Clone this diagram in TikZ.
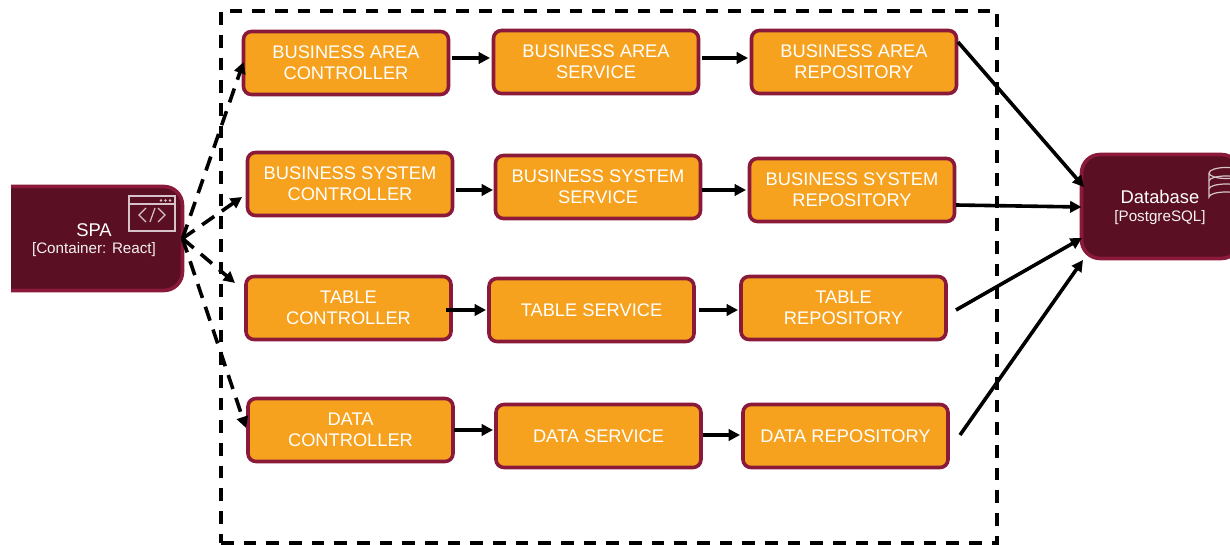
\documentclass[tikz,border=0pt]{standalone}
\usepackage{fontspec}
\setmainfont{Liberation Sans}
\usetikzlibrary{arrows.meta}
\definecolor{orangefill}{HTML}{F6A21E}
\definecolor{wineedge}{HTML}{8B1A3A}
\definecolor{winefill}{HTML}{5A0F22}
\definecolor{iconline}{HTML}{D6C3C9}
\tikzset{
  bx/.style={draw=wineedge,fill=orangefill,line width=2.7pt,rounded corners=6pt,minimum width=153.75pt,minimum height=47.25pt,inner sep=0pt,outer sep=0pt,align=center,text=white,font=\fontsize{13.7}{15.8}\selectfont},
  dark/.style={draw=wineedge,fill=winefill,line width=2.7pt,rounded corners=14pt,minimum height=78pt,inner sep=0pt,outer sep=0pt},
  titletext/.style={text=white,inner sep=0pt,font=\fontsize{13.8}{16}\selectfont},
  subtext/.style={text=white!94!winefill,inner sep=0pt,font=\fontsize{11.4}{13}\selectfont},
  arr/.style={draw=black,line width=2.7pt,-{Triangle[length=8.5pt,width=8.5pt]}},
  darr/.style={arr,dash pattern=on 11pt off 7pt},
  frame/.style={draw=black,line width=2.7pt,dash pattern=on 9.5pt off 7.5pt,minimum width=582pt,minimum height=399pt,inner sep=0pt,outer sep=0pt},
  icon/.style={draw=iconline,line width=0.9pt},
}
\begin{document}
\begin{tikzpicture}[x=0.75pt,y=-0.75pt]
\clip (0,0) rectangle (1230,545);
\fill[white] (0,0) rectangle (1230,545);
\node[frame] (fr) at (609,277) {};
% boxes
\node[bx] (a1) at (346,63) {BUSINESS AREA\\CONTROLLER};
\node[bx] (a2) at (596,62) {BUSINESS AREA\\SERVICE};
\node[bx] (a3) at (854,62) {BUSINESS AREA\\REPOSITORY};
\node[bx] (b1) at (350,184) {BUSINESS SYSTEM\\CONTROLLER};
\node[bx] (b2) at (598,187) {BUSINESS SYSTEM\\SERVICE};
\node[bx] (b3) at (852,190) {BUSINESS SYSTEM\\REPOSITORY};
\node[bx] (c1) at (348.5,308) {TABLE\\CONTROLLER};
\node[bx] (c2) at (591.5,310) {TABLE SERVICE};
\node[bx] (c3) at (843.5,308) {TABLE\\REPOSITORY};
\node[bx] (d1) at (350.5,430) {DATA\\CONTROLLER};
\node[bx] (d2) at (598.5,436) {DATA SERVICE};
\node[bx] (d3) at (845.5,436) {DATA REPOSITORY};
% SPA, cut off at left
\begin{scope}
\clip (11,150) rectangle (300,330);
\node[dark,minimum width=152.25pt] (spa) at (81,238.5) {};
\end{scope}
\node[titletext] (spat) at (94,230) {SPA};
\node[subtext] (spas) at (94,250) {[Container: React]};
\draw[icon] (129,196) rectangle (175,231);
\draw[icon] (129,204) -- (175,204);
\fill[iconline] (161,200.5) circle (1pt) (165.5,200.5) circle (1pt) (170,200.5) circle (1pt);
\draw[icon] (146,208) -- (139,215) -- (146,222);
\draw[icon] (155,208) -- (150,222);
\draw[icon] (158,208) -- (165,215) -- (158,222);
% Database, cut off at right
\node[dark,minimum width=118.9pt] (db) at (1160.75,206.5) {};
\node[titletext] (dbt) at (1160,197) {Database};
\node[subtext] (dbs) at (1160,218) {[PostgreSQL]};
\draw[icon] (1209,173) -- (1209,197) arc[start angle=180,end angle=360,x radius=17,y radius=5];
\draw[icon] (1209,173) arc[start angle=180,end angle=-180,x radius=17,y radius=5.5];
\draw[icon] (1209,181) arc[start angle=180,end angle=360,x radius=17,y radius=5];
\draw[icon] (1209,189) arc[start angle=180,end angle=360,x radius=17,y radius=5];
% row arrows
\draw[arr] ([shift={(3.5,-5)}]a1.east) -- ([shift={(-3.5,-4)}]a2.west);
\draw[arr] ([shift={(3.5,-4)}]a2.east) -- ([shift={(-3.5,-4)}]a3.west);
\draw[arr] ([shift={(3.5,6)}]b1.east) -- ([shift={(-2.5,3)}]b2.west);
\draw[arr] ([shift={(1.5,3)}]b2.east) -- ([shift={(-3.5,0)}]b3.west);
\draw[arr] ([shift={(-5,2)}]c1.east) -- ([shift={(-3,0)}]c2.west);
\draw[arr] ([shift={(5,0)}]c2.east) -- ([shift={(-3,2)}]c3.west);
\draw[arr] ([shift={(1,0)}]d1.east) -- ([shift={(-3,-6)}]d2.west);
\draw[arr] ([shift={(2,-1)}]d2.east) -- ([shift={(-3,-1)}]d3.west);
% SPA to controllers
\draw[darr] (spa.east) -- ([shift={(0,-1)}]a1.west);
\draw[darr] (spa.east) -- ([shift={(-5.5,13)}]b1.west);
\draw[darr] (spa.east) -- ([shift={(-11,-25)}]c1.west);
\draw[darr] (spa.east) -- ([shift={(-2,-2)}]d1.west);
% repositories to database
\draw[arr] ([shift={(1.5,-20)}]a3.east) -- ([shift={(2.5,-19.5)}]db.west);
\draw[arr] ([shift={(1.5,15)}]b3.east) -- ([shift={(0,0.5)}]db.west);
\draw[arr] ([shift={(10,2)}]c3.east) -- ([shift={(0.5,31.5)}]db.west);
\draw[arr] ([shift={(12,-1)}]d3.east) -- ([shift={(1.5,53.5)}]db.west);
\end{tikzpicture}
\end{document}
